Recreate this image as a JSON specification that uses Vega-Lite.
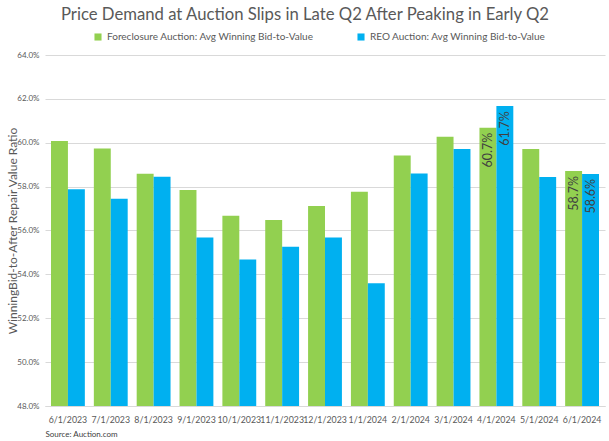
{
  "$schema": "https://vega.github.io/schema/vega-lite/v6.json",
  "width": 560,
  "height": 351,
  "autosize": "none",
  "padding": {"left": 45, "top": 55, "right": 4, "bottom": 35},
  "background": "white",
  "config": {"font": "Lato", "view": {"stroke": null}},
  "title": {
    "text": "Price Demand at Auction Slips in Late Q2 After Peaking in Early Q2",
    "fontSize": 16.7,
    "fontWeight": "normal",
    "color": "#595959",
    "anchor": "middle",
    "frame": "group",
    "dx": -20,
    "offset": 8
  },
  "data": {
    "values": [
      {"month": "6/1/2023", "series": "Foreclosure Auction: Avg Winning Bid-to-Value", "value": 0.6008},
      {"month": "6/1/2023", "series": "REO Auction: Avg Winning Bid-to-Value", "value": 0.5788},
      {"month": "7/1/2023", "series": "Foreclosure Auction: Avg Winning Bid-to-Value", "value": 0.5974},
      {"month": "7/1/2023", "series": "REO Auction: Avg Winning Bid-to-Value", "value": 0.5745},
      {"month": "8/1/2023", "series": "Foreclosure Auction: Avg Winning Bid-to-Value", "value": 0.5859},
      {"month": "8/1/2023", "series": "REO Auction: Avg Winning Bid-to-Value", "value": 0.5845},
      {"month": "9/1/2023", "series": "Foreclosure Auction: Avg Winning Bid-to-Value", "value": 0.5785},
      {"month": "9/1/2023", "series": "REO Auction: Avg Winning Bid-to-Value", "value": 0.5568},
      {"month": "10/1/2023", "series": "Foreclosure Auction: Avg Winning Bid-to-Value", "value": 0.5667},
      {"month": "10/1/2023", "series": "REO Auction: Avg Winning Bid-to-Value", "value": 0.5468},
      {"month": "11/1/2023", "series": "Foreclosure Auction: Avg Winning Bid-to-Value", "value": 0.5648},
      {"month": "11/1/2023", "series": "REO Auction: Avg Winning Bid-to-Value", "value": 0.5526},
      {"month": "12/1/2023", "series": "Foreclosure Auction: Avg Winning Bid-to-Value", "value": 0.5712},
      {"month": "12/1/2023", "series": "REO Auction: Avg Winning Bid-to-Value", "value": 0.5568},
      {"month": "1/1/2024", "series": "Foreclosure Auction: Avg Winning Bid-to-Value", "value": 0.5777},
      {"month": "1/1/2024", "series": "REO Auction: Avg Winning Bid-to-Value", "value": 0.5359},
      {"month": "2/1/2024", "series": "Foreclosure Auction: Avg Winning Bid-to-Value", "value": 0.5942},
      {"month": "2/1/2024", "series": "REO Auction: Avg Winning Bid-to-Value", "value": 0.5860},
      {"month": "3/1/2024", "series": "Foreclosure Auction: Avg Winning Bid-to-Value", "value": 0.6027},
      {"month": "3/1/2024", "series": "REO Auction: Avg Winning Bid-to-Value", "value": 0.5971},
      {"month": "4/1/2024", "series": "Foreclosure Auction: Avg Winning Bid-to-Value", "value": 0.6068},
      {"month": "4/1/2024", "series": "REO Auction: Avg Winning Bid-to-Value", "value": 0.6167},
      {"month": "5/1/2024", "series": "Foreclosure Auction: Avg Winning Bid-to-Value", "value": 0.5971},
      {"month": "5/1/2024", "series": "REO Auction: Avg Winning Bid-to-Value", "value": 0.5844},
      {"month": "6/1/2024", "series": "Foreclosure Auction: Avg Winning Bid-to-Value", "value": 0.5871},
      {"month": "6/1/2024", "series": "REO Auction: Avg Winning Bid-to-Value", "value": 0.5858}
    ]
  },
  "encoding": {
    "x": {
      "field": "month",
      "type": "nominal",
      "sort": null,
      "scale": {"paddingInner": 0.21, "paddingOuter": 0.14},
      "axis": {
        "labelAngle": 0,
        "labelFontSize": 8.8,
        "labelColor": "#595959",
        "labelPadding": 9,
        "labelOverlap": false,
        "ticks": false,
        "domain": true,
        "domainColor": "#D9D9D9",
        "title": "Source: Auction.com",
        "titleAnchor": "start",
        "titleAlign": "left",
        "titleFontSize": 8,
        "titleFontWeight": "normal",
        "titleColor": "#404040",
        "titlePadding": 7
      }
    },
    "xOffset": {"field": "series", "type": "nominal"},
    "y": {
      "field": "value",
      "type": "quantitative",
      "scale": {"domain": [0.48, 0.64], "nice": false, "zero": false},
      "axis": {
        "values": [0.48, 0.50, 0.52, 0.54, 0.56, 0.58, 0.60, 0.62, 0.64],
        "format": ".1%",
        "labelFontSize": 8,
        "labelColor": "#595959",
        "labelPadding": 6,
        "ticks": false,
        "domain": false,
        "gridColor": "#D9D9D9",
        "title": "WinningBid-to-After Repair Value Ratio",
        "titleFontSize": 12,
        "titleFontWeight": "normal",
        "titleColor": "#595959",
        "titlePadding": -3
      }
    }
  },
  "layer": [
    {
      "mark": {"type": "bar", "clip": true},
      "encoding": {
        "color": {
          "field": "series",
          "type": "nominal",
          "scale": {"range": ["#92D050", "#00B0F0"]},
          "legend": {
            "orient": "none",
            "legendX": 48,
            "legendY": -23,
            "direction": "horizontal",
            "title": null,
            "symbolType": "square",
            "symbolSize": 50,
            "labelFontSize": 10,
            "labelColor": "#595959",
            "columnPadding": 42,
            "labelLimit": 400
          }
        }
      }
    },
    {
      "transform": [{"filter": "datum.month === '4/1/2024' || datum.month === '6/1/2024'"}],
      "mark": {"type": "text", "angle": 270, "align": "right", "baseline": "middle", "dx": -5, "fontSize": 12.5, "color": "#404040"},
      "encoding": {
        "text": {"field": "value", "type": "quantitative", "format": ".1%"}
      }
    }
  ]
}
